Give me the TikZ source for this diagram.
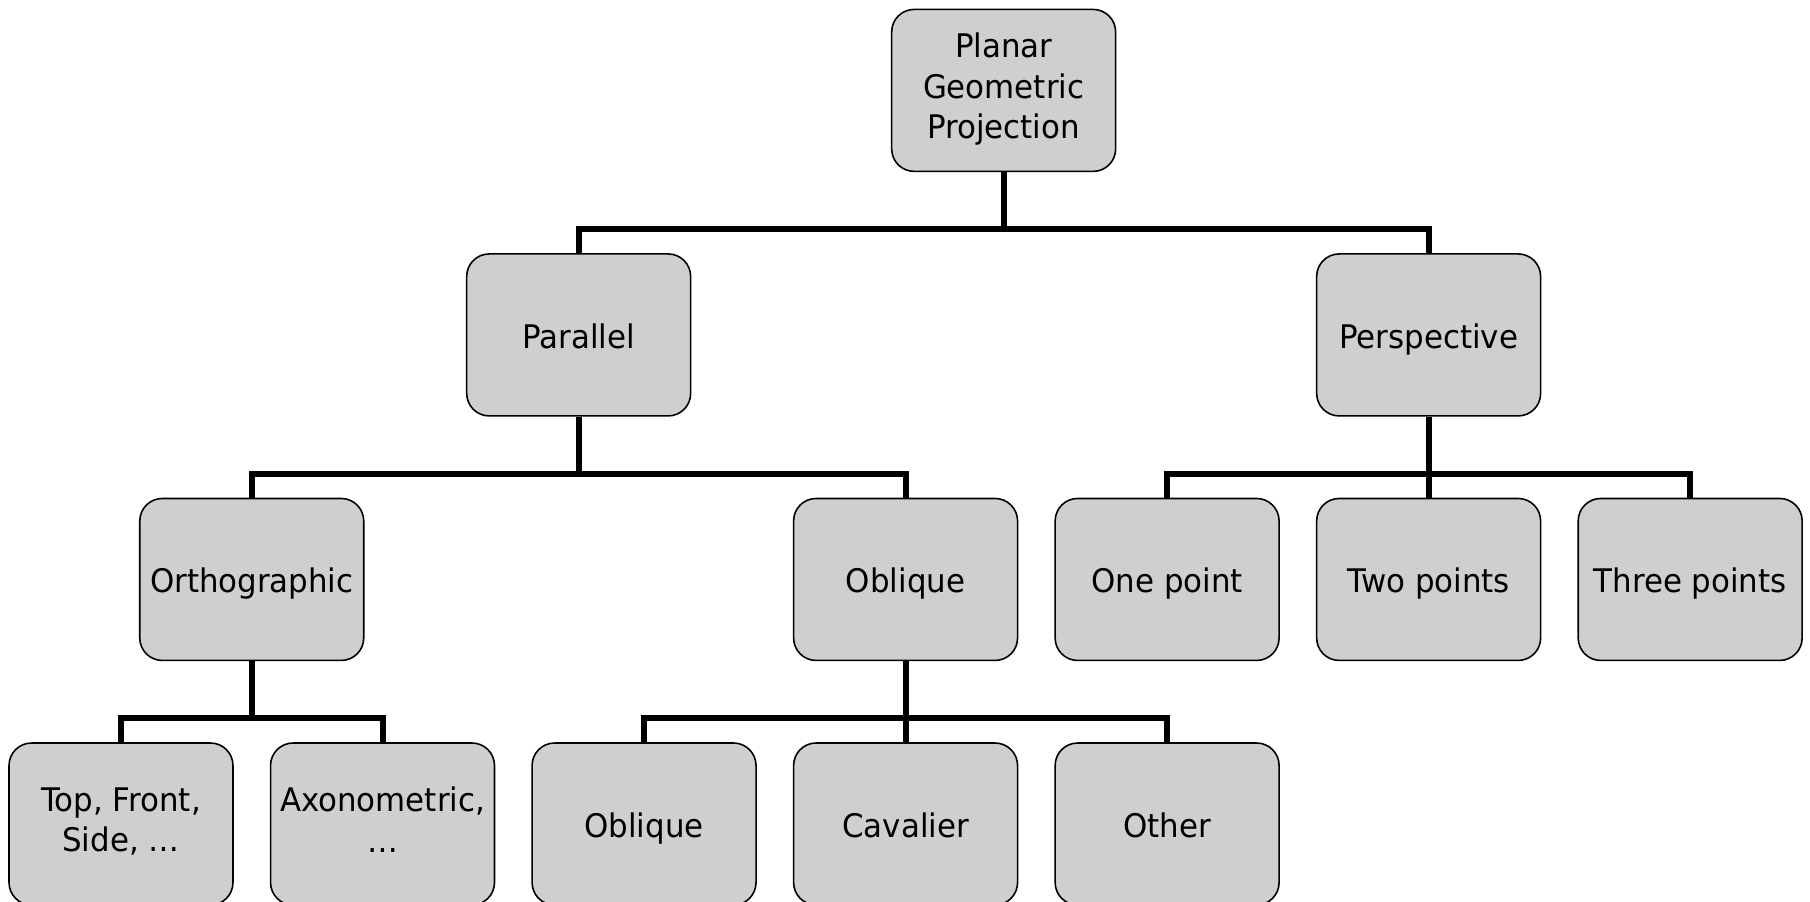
\documentclass[tikz,border=0pt]{standalone}
\usepackage{fontspec}
\setmainfont{DejaVu Sans}[FakeStretch=0.95]
\usepackage{tikz}
\usetikzlibrary{calc,positioning}

\definecolor{boxgray}{RGB}{207,207,207}
\newcommand{\boxstrut}{\rule[-5pt]{0pt}{24.9pt}}

\begin{document}
\begin{tikzpicture}[x=0.02cm, y=-0.02cm, node distance=1.62cm and 0.72cm,
		box/.style={draw=black, fill=boxgray, line width=0.9pt, rounded corners=0.45cm,
			minimum width=4.48cm, minimum height=3.24cm, align=center, inner sep=0pt,
			font=\fontsize{18.5}{23}\selectfont,
			execute at begin node=\boxstrut, execute at end node=\boxstrut},
		link/.style={line width=3.4pt}]
	\useasboundingbox (0,0) rectangle (1810,902);

	% bottom row
	\node[box] (tfs) at (121,824) {Top, Front,\\Side, …};
	\node[box, right=of tfs] (axo) {Axonometric,\\…};
	\node[box, right=of axo] (obl2) {Oblique};
	\node[box, right=of obl2] (cav) {Cavalier};
	\node[box, right=of cav] (other) {Other};

	% middle row
	\node[box, above=of $(tfs.north)!0.5!(axo.north)$] (ortho) {Orthographic};
	\node[box, above=of cav] (obl) {Oblique};
	\node[box, above=of other] (one) {One point};
	\node[box, right=of one] (two) {Two points};
	\node[box, right=of two] (three) {Three points};

	% upper rows
	\node[box, above=of $(ortho.north)!0.5!(obl.north)$] (par) {Parallel};
	\node[box, above=of two] (persp) {Perspective};
	\node[box, above=of $(par.north)!0.5!(persp.north)$] (pgp) {Planar\\Geometric\\Projection};

	\foreach \from/\to in {pgp/par, pgp/persp, par/ortho, par/obl,
			persp/one, persp/two, persp/three,
			ortho/tfs, ortho/axo, obl/obl2, obl/cav, obl/other}
		\draw[link] (\from.south) |- ($(\to.north)+(0,0.48cm)$) -- (\to.north);
\end{tikzpicture}
\end{document}
